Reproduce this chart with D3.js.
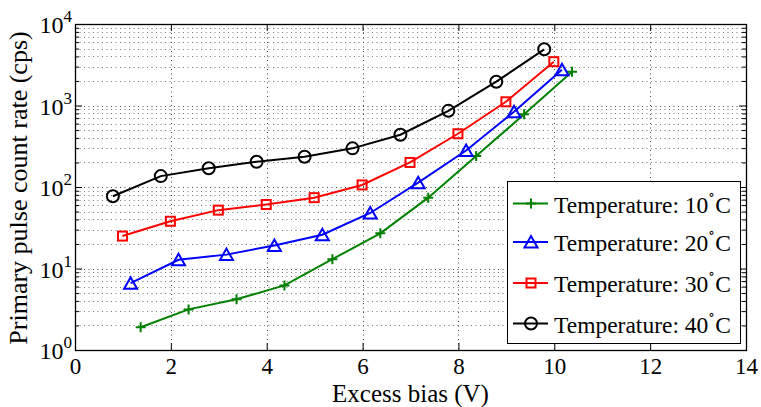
<!DOCTYPE html>
<html>
<head>
<meta charset="utf-8">
<script src="https://cdnjs.cloudflare.com/ajax/libs/d3/7.8.5/d3.min.js"></script>
<style>
	body { margin: 0; background: #fff; }
	svg text { font-family: "Liberation Serif", "DejaVu Serif", serif; fill: #000; }
</style>
</head>
<body>
<div id="chart"></div>
<script>

// values
var xTicks = [0, 2, 4, 6, 8, 10, 12, 14];
var yTicks = [0, 1, 2, 3, 4];   // decades

var bias10 = [1.37, 2.37, 3.37, 4.37, 5.37, 6.37, 7.37, 8.37, 9.37, 10.37];
var rate10 = [1.9, 3.15, 4.2, 6.2, 13, 27, 74, 240, 780, 2600];

var bias20 = [1.16, 2.16, 3.16, 4.16, 5.16, 6.16, 7.16, 8.16, 9.16, 10.16];
var rate20 = [6.6, 12.8, 14.8, 19.2, 26, 48, 113, 280, 840, 2750];

var bias30 = [0.99, 1.99, 2.99, 3.99, 4.99, 5.99, 6.99, 7.99, 8.99, 9.99];
var rate30 = [25, 38, 52, 61, 74, 106, 200, 450, 1110, 3450];

var bias40 = [0.79, 1.79, 2.79, 3.79, 4.79, 5.79, 6.79, 7.79, 8.79, 9.79];
var rate40 = [77, 136, 170, 204, 235, 298, 438, 860, 1960, 4890];

var seriesNames  = ["Temperature: 10", "Temperature: 20", "Temperature: 30", "Temperature: 40"];
var seriesColors = ["#008000", "#0000ff", "#ff0000", "#000000"];
var seriesMarks  = ["plus", "triangle", "square", "circle"];

var series = [
	{ x: bias10, y: rate10 },
	{ x: bias20, y: rate20 },
	{ x: bias30, y: rate30 },
	{ x: bias40, y: rate40 }
];

(function() {

var width = 761, height = 407;
var pLeft = 75, pRight = 746, pTop = 24, pBottom = 350;

var svg = d3.select("#chart")
	.append("svg")
	.attr("width", width)
	.attr("height", height);

var x = d3.scaleLinear().domain([0, 14]).range([pLeft, pRight]);
var y = d3.scaleLog().domain([1, 1e4]).range([pBottom, pTop]);

// minor log values
var minor = [];
yTicks.slice(0, -1).forEach(function(e) {
	for (var k = 2; k <= 9; k++) minor.push(k * Math.pow(10, e));
});

var grid = svg.append("g").attr("class", "grid");

grid.selectAll("line.minor")
	.data(minor)
	.enter().append("line")
	.attr("class", "minor")
	.attr("x1", pLeft).attr("x2", pRight)
	.attr("y1", function(d) { return Math.round(y(d)) + 0.5; })
	.attr("y2", function(d) { return Math.round(y(d)) + 0.5; })
	.attr("stroke", "#777")
	.attr("stroke-dasharray", "1,3.5");

grid.selectAll("line.majy")
	.data(yTicks.slice(1, -1))
	.enter().append("line")
	.attr("class", "majy")
	.attr("x1", pLeft).attr("x2", pRight)
	.attr("y1", function(d) { return Math.round(y(Math.pow(10, d))) + 0.5; })
	.attr("y2", function(d) { return Math.round(y(Math.pow(10, d))) + 0.5; })
	.attr("stroke", "#444")
	.attr("stroke-dasharray", "1,3.5");

grid.selectAll("line.majx")
	.data(xTicks.slice(1, -1))
	.enter().append("line")
	.attr("class", "majx")
	.attr("y1", pTop).attr("y2", pBottom)
	.attr("x1", function(d) { return Math.round(x(d)) + 0.5; })
	.attr("x2", function(d) { return Math.round(x(d)) + 0.5; })
	.attr("stroke", "#444")
	.attr("stroke-dasharray", "1,3.5");

// axes with inward ticks
var decadeVals = yTicks.map(function(e) { return Math.pow(10, e); });
var axisB = d3.axisBottom(x).tickValues(xTicks).tickSizeInner(-7).tickSizeOuter(0).tickPadding(18);
var axisT = d3.axisTop(x).tickValues(xTicks).tickSizeInner(-7).tickSizeOuter(0).tickFormat("");
var axisL = d3.axisLeft(y).tickValues(decadeVals).tickSizeInner(-7).tickSizeOuter(0).tickFormat("");
var axisR = d3.axisRight(y).tickValues(decadeVals).tickSizeInner(-7).tickSizeOuter(0).tickFormat("");
var minL = d3.axisLeft(y).tickValues(minor).tickSizeInner(-4).tickSizeOuter(0).tickFormat("");
var minR = d3.axisRight(y).tickValues(minor).tickSizeInner(-4).tickSizeOuter(0).tickFormat("");

var gB = svg.append("g").attr("transform", "translate(0," + pBottom + ")").call(axisB);
svg.append("g").attr("transform", "translate(0," + pTop + ")").call(axisT);
svg.append("g").attr("transform", "translate(" + pLeft + ",0)").call(axisL);
svg.append("g").attr("transform", "translate(" + pRight + ",0)").call(axisR);
svg.append("g").attr("transform", "translate(" + pLeft + ",0)").call(minL);
svg.append("g").attr("transform", "translate(" + pRight + ",0)").call(minR);

svg.selectAll(".domain").remove();
svg.selectAll(".tick line").attr("stroke", "#000");

gB.selectAll("text")
	.style("font-family", '"Liberation Serif", serif')
	.style("font-size", "23px")
	.attr("dy", "0.28em");

// y tick labels 10^n
var ylab = svg.append("g");
yTicks.forEach(function(e) {
	var t = ylab.append("text")
		.attr("x", pLeft - 3)
		.attr("y", y(Math.pow(10, e)) + 9)
		.attr("text-anchor", "end")
		.style("font-size", "24px");
	t.append("tspan").text("10");
	t.append("tspan").attr("dy", -11).style("font-size", "17px").text(e);
});

// box
svg.append("rect")
	.attr("x", pLeft + 0.5).attr("y", pTop + 0.5)
	.attr("width", pRight - pLeft).attr("height", pBottom - pTop)
	.attr("fill", "none")
	.attr("stroke", "#000")
	.attr("stroke-width", 1.3);

// markers
function drawMark(g, kind, color) {
	if (kind == "plus") {
		g.append("path").attr("d", "M-5,0H5M0,-5V5")
			.attr("stroke", color).attr("stroke-width", 2).attr("fill", "none");
	} else if (kind == "triangle") {
		g.append("path").attr("d", "M0,-6L6.5,5.5L-6.5,5.5Z")
			.attr("stroke", color).attr("stroke-width", 2).attr("fill", "none");
	} else if (kind == "square") {
		g.append("rect").attr("x", -4.5).attr("y", -4.5).attr("width", 9).attr("height", 9)
			.attr("stroke", color).attr("stroke-width", 2).attr("fill", "none");
	} else {
		g.append("circle").attr("r", 6)
			.attr("stroke", color).attr("stroke-width", 2).attr("fill", "none");
	}
}

var line = d3.line()
	.x(function(d) { return x(d[0]); })
	.y(function(d) { return y(d[1]); });

series.forEach(function(s, i) {
	var pts = d3.zip(s.x, s.y);
	svg.append("path")
		.datum(pts)
		.attr("d", line)
		.attr("fill", "none")
		.attr("stroke", seriesColors[i])
		.attr("stroke-width", 2);
	pts.forEach(function(p) {
		var g = svg.append("g").attr("transform", "translate(" + x(p[0]) + "," + y(p[1]) + ")");
		drawMark(g, seriesMarks[i], seriesColors[i]);
	});
});

// legend
var lg = svg.append("g").attr("transform", "translate(507,181)");
lg.append("rect")
	.attr("x", 0.5).attr("y", 0.5)
	.attr("width", 233).attr("height", 162)
	.attr("fill", "#fff")
	.attr("stroke", "#000");

var rowY = [22.5, 61, 102, 142.5];
seriesNames.forEach(function(name, i) {
	var row = lg.append("g").attr("transform", "translate(0," + rowY[i] + ")");
	row.append("line")
		.attr("x1", 6).attr("x2", 41)
		.attr("stroke", seriesColors[i]).attr("stroke-width", 2);
	var m = row.append("g").attr("transform", "translate(24,0)");
	drawMark(m, seriesMarks[i], seriesColors[i]);
	var t = row.append("text")
		.attr("x", 47).attr("y", 9)
		.style("font-size", "23.5px");
	t.append("tspan").text(name);
	t.append("tspan").attr("dy", -14).style("font-size", "14px").text("\u2218");
	t.append("tspan").attr("dy", 14).text("C");
});

// axis titles
svg.append("text")
	.attr("x", (pLeft + pRight) / 2)
	.attr("y", 401.5)
	.attr("text-anchor", "middle")
	.style("font-size", "25px")
	.text("Excess bias (V)");

svg.append("text")
	.attr("transform", "translate(27," + ((pTop + pBottom) / 2 + 1) + ") rotate(-90)")
	.attr("text-anchor", "middle")
	.style("font-size", "26px")
	.text("Primary pulse count rate (cps)");

})();

</script>
</body>
</html>
